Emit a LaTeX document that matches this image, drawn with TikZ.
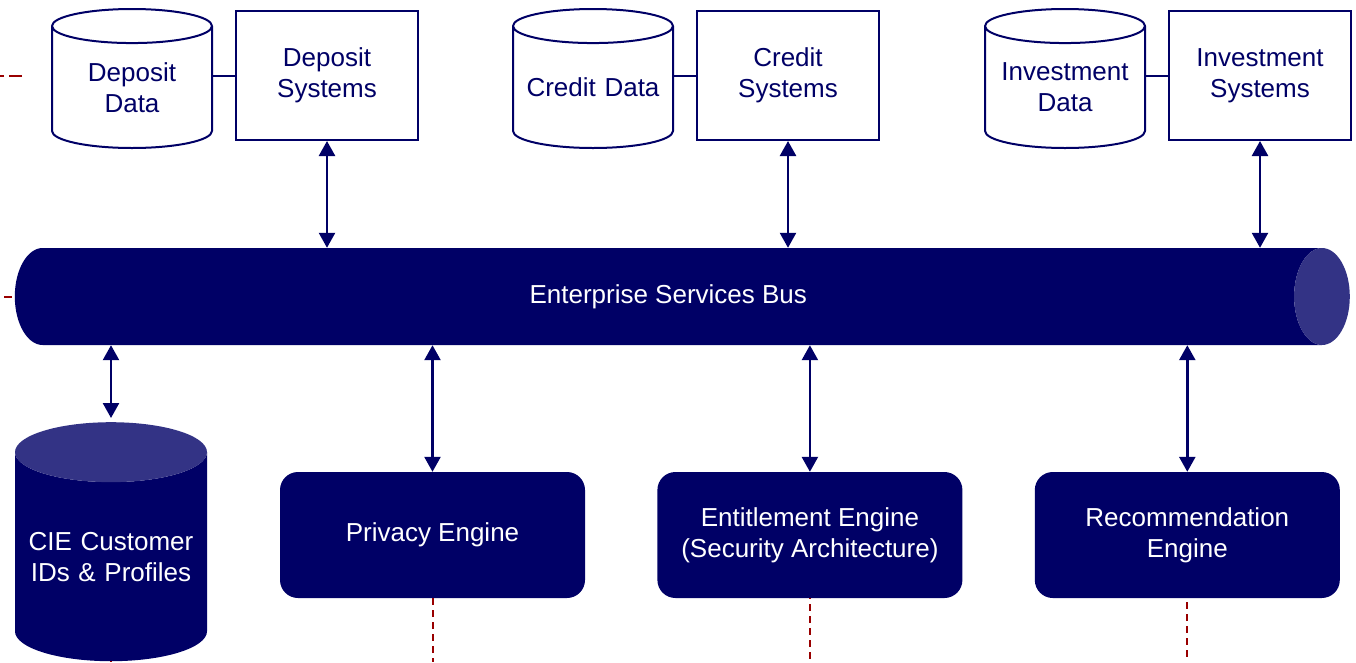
\documentclass[tikz,border=0pt]{standalone}
\usepackage{fontspec}
\setmainfont{Liberation Sans}
\usetikzlibrary{shapes.geometric, positioning, arrows.meta}

\definecolor{busblue}{RGB}{0,0,102}
\definecolor{buslight}{RGB}{51,51,133}
\definecolor{tracered}{RGB}{153,0,0}

\begin{document}
\begin{tikzpicture}[
		x=1pt, y=-1pt,
		nodes = {
			align = center,
			font = \fontsize{26}{31}\selectfont
		},
		store/.style={
			draw=busblue,
			line width=2pt,
			fill=white,
			cylinder,
			shape border rotate=90,
			aspect=0.227,
			text width=150pt,
			minimum width=160pt,
			minimum height=139pt,
			inner sep=0pt,
			anchor=north,
			text=busblue
		},
		profiles/.style={
			cylinder,
			shape border rotate=90,
			aspect=0.333,
			text width=180pt,
			minimum width=192pt,
			minimum height=239pt,
			inner sep=0pt,
			anchor=north,
			cylinder uses custom fill,
			cylinder body fill=busblue,
			cylinder end fill=buslight,
			text=white
		},
		bus/.style={
			cylinder,
			shape border rotate=0,
			aspect=2.3,
			minimum width=97pt,
			minimum height=1335pt,
			inner sep=0pt,
			anchor=east,
			cylinder uses custom fill,
			cylinder body fill=busblue,
			cylinder end fill=buslight,
			text=white
		},
		system/.style={
			draw=busblue,
			line width=2pt,
			fill=white,
			rectangle,
			minimum width=182pt,
			minimum height=129pt,
			text=busblue
		},
		engine/.style={
			fill=busblue,
			rectangle,
			rounded corners=18pt,
			minimum width=305pt,
			minimum height=126pt,
			text=white
		},
		link/.style={
			draw=busblue,
			line width=2pt
		},
		lines/.style={
			draw=busblue,
			line width=2.5pt,
			>={Triangle[width=16pt,length=15pt]},
			<->
		},
		trace/.style={
			draw=tracered,
			line width=2pt,
			dash pattern=on 7pt off 5pt
		}
	]
	\useasboundingbox (0,0) rectangle (1356,662);

	% source systems
	\node[store] (depdata) at (132,8) {Deposit\\Data};
	\node[system] (depsys) at (327,75.5) {Deposit\\Systems};

	\node[store] (creditdata) at (593,8) {Credit Data};
	\node[system] (creditsys) at (788,75.5) {Credit\\Systems};

	\node[store] (invdata) at (1065,8) {Investment\\Data};
	\node[system] (invsys) at (1260,75.5) {Investment\\Systems};

	% the bus
	\node[bus] (esb) at (1350,296.5) {Enterprise Services Bus};

	% engines
	\node[profiles] (cie) at (111,422) {CIE Customer\\IDs \& Profiles};
	\node[engine] (privacy) at (432.5,535) {Privacy Engine};
	\node[engine] (entitle) [right=72pt of privacy] {
		Entitlement Engine\\
		(Security Architecture)
	};
	\node[engine] (recommend) [right=72pt of entitle] {
		Recommendation\\
		Engine
	};

	\coordinate (floor) at (0,662);
	\coordinate (cuttop) at (22,76);
	\coordinate (edgetop) at (-12,76);
	\coordinate (cutbus) at (12,297);
	\coordinate (edgebus) at (-12,297);

	\foreach \data/\sys in {depdata/depsys, creditdata/creditsys, invdata/invsys}
		\draw[link] (\data.east |- \sys.west) -- (\sys.west);

	\foreach \sys in {depsys, creditsys, invsys}
		\draw[lines] (\sys.south) -- (\sys.south |- esb.north);

	\foreach \eng in {privacy, entitle, recommend}
		\draw[lines] (esb.south -| \eng.north) -- (\eng.north);
	\draw[lines] (esb.south -| cie.north) -- ([yshift=4pt]cie.north);

	% links leaving the picture
	\draw[trace] (privacy.south) -- (privacy.south |- floor);
	\draw[trace, dash phase=-6pt] (entitle.south) -- (entitle.south |- floor);
	\draw[trace, dash phase=-4pt] (recommend.south) -- (recommend.south |- floor);
	\draw[trace] (cie.south) -- (cie.south |- floor);
	\draw[trace, dash pattern=on 13pt off 5pt] (cuttop) -- (edgetop);
	\draw[trace, dash pattern=on 8pt off 5pt] (cutbus) -- (edgebus);
\end{tikzpicture}
\end{document}
